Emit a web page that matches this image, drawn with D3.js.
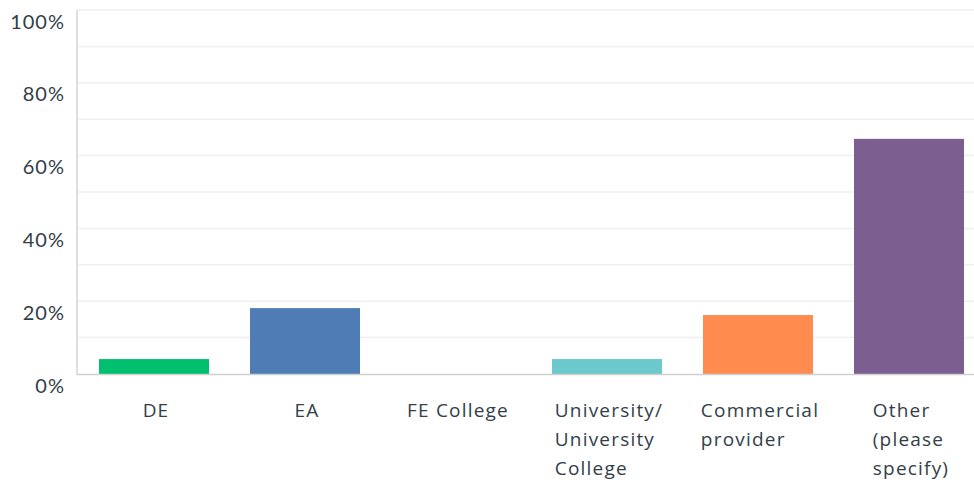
<!DOCTYPE html>
<html>
<head>
<meta charset="utf-8">
<script src="https://cdn.jsdelivr.net/npm/d3@7/dist/d3.min.js"></script>
<style>
  html, body { margin: 0; padding: 0; background: #fff; }
  svg { display: block; }
</style>
</head>
<body>
<svg id="chart" width="974" height="482"></svg>
<script>
const categories = [
  ["DE"],
  ["EA"],
  ["FE College"],
  ["University/", "University", "College"],
  ["Commercial", "provider"],
  ["Other", "(please", "specify)"]
];
const values = [4.1, 18.1, 0, 4.1, 16.2, 64.6];
const colors = ["#00BF6F", "#507CB6", "#A0A0A0", "#6BC8CD", "#FF8B4F", "#7D5E90"];
const tickLabels = ["0%", "20%", "40%", "60%", "80%", "100%"];
const tickValues = [0, 20, 40, 60, 80, 100];
const gridValues = [10, 20, 30, 40, 50, 60, 70, 80, 90, 100];

const svg = d3.select("#chart");
const W = 974, H = 482;
const plotLeft = 77, plotTop = 10, plotBottom = 374;

const x = d3.scaleBand()
  .domain(d3.range(categories.length))
  .range([plotLeft, 986])
  .paddingInner(0.2715)
  .paddingOuter(0.1457);

const y = d3.scaleLinear().domain([0, 100]).range([plotBottom, plotTop]);

// gridlines
svg.append("g").selectAll("line").data(gridValues).join("line")
  .attr("x1", plotLeft).attr("x2", W)
  .attr("y1", d => y(d)).attr("y2", d => y(d))
  .attr("stroke", "#efefef").attr("stroke-width", 1.5);

// y axis line
svg.append("line")
  .attr("x1", plotLeft).attr("x2", plotLeft)
  .attr("y1", plotTop).attr("y2", plotBottom + 1)
  .attr("stroke", "#d4d4d4").attr("stroke-width", 1.5);

// bars
svg.append("g").selectAll("rect").data(values).join("rect")
  .attr("x", (d, i) => x(i))
  .attr("width", x.bandwidth())
  .attr("y", d => y(d))
  .attr("height", d => plotBottom - y(d))
  .attr("fill", (d, i) => colors[i]);

// baseline
svg.append("line")
  .attr("x1", plotLeft).attr("x2", W)
  .attr("y1", plotBottom + 0.5).attr("y2", plotBottom + 0.5)
  .attr("stroke", "#d0d0d0").attr("stroke-width", 1.5);

// y tick labels
const yAxis = d3.axisLeft(y).tickValues(tickValues)
  .tickFormat((d, i) => tickLabels[i]).tickSize(0).tickPadding(0);
const gy = svg.append("g").attr("transform", `translate(65,0)`).call(yAxis);
gy.select(".domain").remove();
gy.selectAll("text")
  .attr("dy", 18)
  .attr("fill", "#333e48")
  .style("font-family", "Lato, 'Open Sans', sans-serif")
  .style("font-size", "20px")
  .style("letter-spacing", "1px");

// x labels
const lab = svg.append("g").selectAll("g").data(categories).join("g");
lab.each(function(lines, i) {
  const g = d3.select(this);
  const t = g.append("text")
    .attr("fill", "#333e48")
    .style("font-family", "'Open Sans', sans-serif")
    .style("font-size", "19px")
    .style("letter-spacing", "1.2px");
  lines.forEach((ln, j) => {
    t.append("tspan").attr("x", 0).attr("y", 417 + j * 29).text(ln);
  });
  const w = t.node().getBBox().width;
  g.attr("transform", `translate(${x(i) + x.bandwidth() / 2 - w / 2 + 2},0)`);
});
</script>
</body>
</html>
